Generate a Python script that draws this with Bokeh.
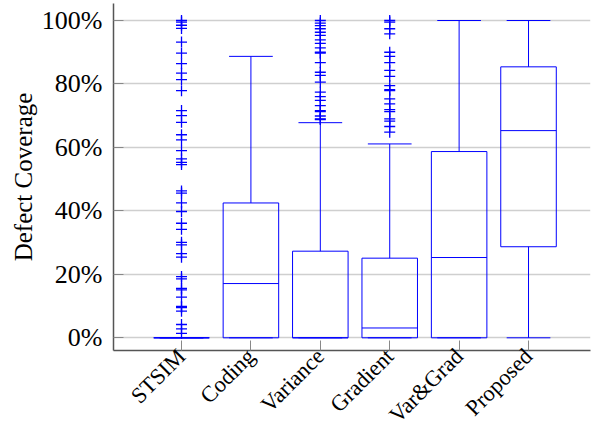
from math import pi
from bokeh.plotting import figure
from bokeh.models import FixedTicker, Range1d
from bokeh.embed import file_html
from bokeh.resources import INLINE

categories = ["STSIM", "Coding", "Variance", "Gradient", "Var&Grad", "Proposed"]
q1 = [0, 0, 0, 0, 0, 28.7]
median = [0, 17.1, 0, 3.1, 25.3, 65.3]
q3 = [0, 42.5, 27.3, 25.1, 58.7, 85.4]
whisker_low = [0, 0, 0, 0, 0, 0]
whisker_high = [0, 88.7, 67.8, 61.1, 100, 100]

stsim_outliers = [100, 99.5, 98.5, 97.5, 93.2, 89.7, 86.4, 83.4, 81.4, 77.9,
                  71.6, 70.0, 67.9, 64.0, 62.4, 59.0, 56.4, 55.3, 54.6, 46.3,
                  45.6, 42.5, 39.8, 36.1, 34.2, 30.1, 29.3, 26.5, 25.4, 19.3,
                  18.6, 15.6, 15.1, 12.8, 9.9, 9.5, 8.4, 4.2, 2.8, 1.4]
variance_outliers = [100, 99.2, 98.4, 97.4, 96.3, 95.3, 93.9, 92.8, 91.4, 90.0,
                     89.7, 86.7, 83.7, 82.7, 80.6, 77.4, 76.0, 74.8, 73.2, 71.6,
                     71.3, 69.9, 69.0, 68.8]
gradient_outliers = [100, 99.5, 97.4, 95.8, 90.0, 88.7, 86.7, 84.3, 82.4, 79.5,
                     78.2, 77.9, 75.3, 73.7, 71.9, 71.3, 69.0, 68.3, 66.6, 64.8]
outliers = {"STSIM": stsim_outliers, "Variance": variance_outliers,
            "Gradient": gradient_outliers}

y_ticks = [0, 20, 40, 60, 80, 100]
y_tick_labels = ["0%", "20%", "40%", "60%", "80%", "100%"]

BLUE = "#0000ff"
FONT = "Liberation Serif"
box_w = 0.8
cap_w = 0.63
Y_MIN, Y_MAX = -4.0, 105.36

xs = list(range(1, len(categories) + 1))

p = figure(width=594, height=439, x_range=Range1d(0.02, 6.893),
           y_range=Range1d(Y_MIN, Y_MAX), output_backend="svg",
           toolbar_location=None, min_border_left=113, min_border_right=4,
           min_border_top=3, min_border_bottom=87)
p.outline_line_color = None
p.background_fill_color = "white"
p.xgrid.grid_line_color = None
p.ygrid.grid_line_color = "#cfcfcf"
p.ygrid.grid_line_width = 1.5
p.ygrid.ticker = FixedTicker(ticks=y_ticks)

# boxes
p.vbar(x=xs, width=box_w, bottom=q1, top=q3, fill_color=None,
       line_color=BLUE, line_width=1)
# medians
p.segment(x0=[x - box_w / 2 for x in xs], y0=median,
          x1=[x + box_w / 2 for x in xs], y1=median, line_color=BLUE, line_width=1)
# whiskers
p.segment(x0=xs, y0=q3, x1=xs, y1=whisker_high, line_color=BLUE, line_width=1)
p.segment(x0=xs, y0=whisker_low, x1=xs, y1=q1, line_color=BLUE, line_width=1)
# caps
p.segment(x0=[x - cap_w / 2 for x in xs], y0=whisker_high,
          x1=[x + cap_w / 2 for x in xs], y1=whisker_high, line_color=BLUE, line_width=1)
p.segment(x0=[x - cap_w / 2 for x in xs], y0=whisker_low,
          x1=[x + cap_w / 2 for x in xs], y1=whisker_low, line_color=BLUE, line_width=1)
# outliers
for name, vals in outliers.items():
    xi = categories.index(name) + 1
    p.scatter(x=[xi] * len(vals), y=vals, marker="cross", size=11,
              line_color=BLUE, line_width=1.3)

# axes
p.xaxis.ticker = FixedTicker(ticks=xs)
p.xaxis.major_label_overrides = {x: c for x, c in zip(xs, categories)}
p.xaxis.major_label_orientation = pi / 4
p.yaxis.ticker = FixedTicker(ticks=y_ticks)
p.yaxis.major_label_overrides = {t: l for t, l in zip(y_ticks, y_tick_labels)}
p.yaxis.axis_label = "Defect Coverage"

for ax in (p.xaxis[0], p.yaxis[0]):
    ax.major_label_text_font = FONT
    ax.major_label_text_font_size = "26px"
    ax.major_label_text_color = "black"
    ax.axis_line_color = "#555555"
    ax.axis_line_width = 1.5
    ax.major_tick_line_color = "#888888"
    ax.major_tick_in = 10
    ax.major_tick_out = 0
    ax.minor_tick_line_color = None
    ax.axis_label_text_font = FONT
    ax.axis_label_text_font_size = "25px"
    ax.axis_label_text_font_style = "normal"
    ax.axis_label_text_color = "black"

p.xaxis.major_label_text_font_size = "22.5px"
p.xaxis.major_label_standoff = 2
p.yaxis.major_label_standoff = 11
p.yaxis.axis_label_standoff = 2

open("out.html", "w").write(file_html(p, INLINE))
